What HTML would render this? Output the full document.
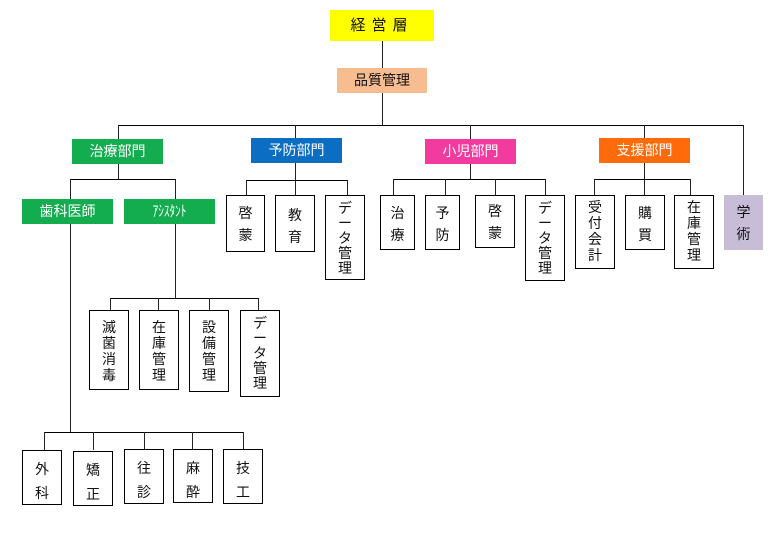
<!DOCTYPE html>
<html><head><meta charset="utf-8"><style>
body{margin:0;width:782px;height:533px;background:#fff;position:relative;overflow:hidden;font-family:"Liberation Sans","Noto Sans CJK JP",sans-serif;}
.b{position:absolute;box-sizing:border-box;text-align:center;font-size:14px;color:#111;}
.w{border:1px solid #000;background:#fff;line-height:19px;padding-top:8px;}
.c{color:#fff;line-height:25px;font-size:14px;}
.h{position:absolute;height:1px;background:#000;}
.v{position:absolute;width:1px;background:#222;}
.f{line-height:15px !important;padding-top:5px !important;}
</style></head><body>
<div class="v" style="left:382px;top:41px;height:84px"></div>
<div class="h" style="left:118px;top:125px;width:626px"></div>
<div class="v" style="left:118px;top:125px;height:54px"></div>
<div class="v" style="left:295px;top:125px;height:70px"></div>
<div class="v" style="left:470px;top:125px;height:54px"></div>
<div class="v" style="left:644px;top:125px;height:70px"></div>
<div class="v" style="left:743px;top:125px;height:70px"></div>
<div class="h" style="left:70px;top:179px;width:106px"></div>
<div class="v" style="left:70px;top:179px;height:253px"></div>
<div class="v" style="left:175px;top:179px;height:119px"></div>
<div class="h" style="left:110px;top:298px;width:149px"></div>
<div class="v" style="left:110px;top:298px;height:12px"></div>
<div class="v" style="left:158px;top:298px;height:12px"></div>
<div class="v" style="left:209px;top:298px;height:12px"></div>
<div class="v" style="left:258px;top:298px;height:12px"></div>
<div class="h" style="left:44px;top:432px;width:200px"></div>
<div class="v" style="left:44px;top:432px;height:18px"></div>
<div class="v" style="left:93px;top:432px;height:18px"></div>
<div class="v" style="left:144px;top:432px;height:18px"></div>
<div class="v" style="left:192px;top:432px;height:18px"></div>
<div class="v" style="left:243px;top:432px;height:18px"></div>
<div class="h" style="left:246px;top:180px;width:102px"></div>
<div class="v" style="left:246px;top:180px;height:15px"></div>
<div class="v" style="left:347px;top:180px;height:15px"></div>
<div class="h" style="left:393px;top:179px;width:153px"></div>
<div class="v" style="left:393px;top:179px;height:16px"></div>
<div class="v" style="left:445px;top:179px;height:16px"></div>
<div class="v" style="left:495px;top:179px;height:16px"></div>
<div class="v" style="left:545px;top:179px;height:16px"></div>
<div class="h" style="left:594px;top:179px;width:97px"></div>
<div class="v" style="left:594px;top:179px;height:16px"></div>
<div class="v" style="left:690px;top:179px;height:16px"></div>

<div class="b" style="left:330px;top:10px;width:104px;height:31px;background:#ffff00;line-height:31px;font-size:15px;letter-spacing:6px">経営層</div>
<div class="b" style="left:337px;top:68px;width:90px;height:25px;background:#f7bc8f;line-height:25px">品質管理</div>

<div class="b c" style="left:72px;top:139px;width:91px;height:25px;background:#13ad50">治療部門</div>
<div class="b c" style="left:251px;top:138px;width:91px;height:25px;background:#0b6ec2">予防部門</div>
<div class="b c" style="left:425px;top:139px;width:91px;height:25px;background:#f23b9f">小児部門</div>
<div class="b c" style="left:599px;top:138px;width:91px;height:25px;background:#ff6b0a">支援部門</div>
<div class="b" style="left:724px;top:195px;width:39px;height:55px;background:#c7bdd7;line-height:22px;padding-top:6px">学<br>術</div>

<div class="b c" style="left:22px;top:199px;width:91px;height:25px;background:#13ad50">歯科医師</div>
<div class="b c" style="left:124px;top:199px;width:91px;height:25px;background:#13ad50;font-size:15px"><span style="display:inline-block;transform:scaleX(0.75)">ｱｼｽﾀﾝﾄ</span></div>

<div class="b w" style="left:226px;top:195px;width:39px;height:57px;line-height:22px;padding-top:6px">啓<br>蒙</div>
<div class="b w" style="left:275px;top:195px;width:40px;height:57px;line-height:22px;padding-top:8px">教<br>育</div>
<div class="b w f" style="left:325px;top:195px;width:40px;height:85px">デ<br>ー<br>タ<br>管<br>理</div>

<div class="b w" style="left:380px;top:195px;width:35px;height:55px;line-height:22px;padding-top:6px">治<br>療</div>
<div class="b w" style="left:425px;top:195px;width:35px;height:55px;line-height:22px;padding-top:6px">予<br>防</div>
<div class="b w" style="left:475px;top:195px;width:40px;height:53px;line-height:22px;padding-top:4px">啓<br>蒙</div>
<div class="b w f" style="left:525px;top:195px;width:40px;height:86px">デ<br>ー<br>タ<br>管<br>理</div>

<div class="b w" style="left:575px;top:195px;width:40px;height:74px;line-height:16px;padding-top:3px">受<br>付<br>会<br>計</div>
<div class="b w" style="left:625px;top:195px;width:40px;height:55px;line-height:22px;padding-top:6px">購<br>買</div>
<div class="b w" style="left:674px;top:195px;width:40px;height:74px;line-height:16px;padding-top:3px">在<br>庫<br>管<br>理</div>

<div class="b w" style="left:89px;top:310px;width:40px;height:80px;line-height:16px;padding-top:8px">滅<br>菌<br>消<br>毒</div>
<div class="b w" style="left:139px;top:310px;width:40px;height:80px;line-height:16px;padding-top:8px">在<br>庫<br>管<br>理</div>
<div class="b w" style="left:189px;top:310px;width:40px;height:82px;line-height:16px;padding-top:8px">設<br>備<br>管<br>理</div>
<div class="b w f" style="left:240px;top:310px;width:40px;height:87px">デ<br>ー<br>タ<br>管<br>理</div>

<div class="b w" style="left:22px;top:450px;width:40px;height:55px;line-height:24px;padding-top:6px">外<br>科</div>
<div class="b w" style="left:73px;top:451px;width:40px;height:55px;line-height:24px;padding-top:6px">矯<br>正</div>
<div class="b w" style="left:124px;top:449px;width:40px;height:55px;line-height:24px;padding-top:6px">往<br>診</div>
<div class="b w" style="left:173px;top:449px;width:40px;height:54px;line-height:24px;padding-top:6px">麻<br>酔</div>
<div class="b w" style="left:223px;top:449px;width:40px;height:55px;line-height:24px;padding-top:6px">技<br>工</div>
</body></html>
